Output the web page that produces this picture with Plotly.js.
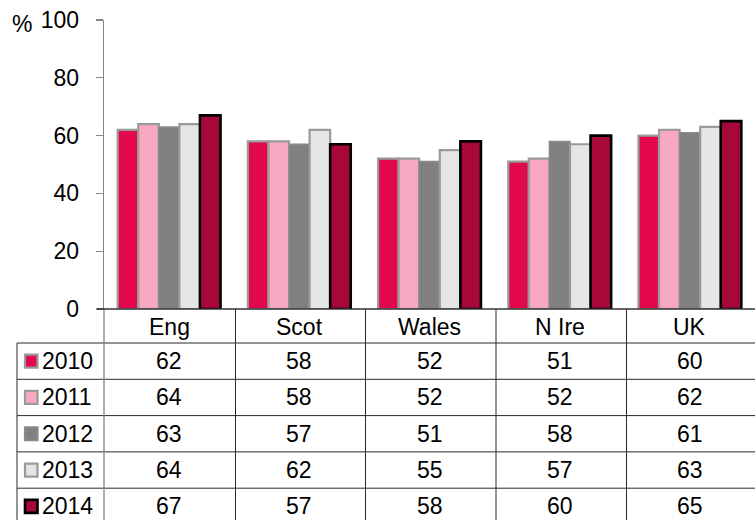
<!DOCTYPE html>
<html>
<head>
<meta charset="utf-8">
<script src="https://cdn.plot.ly/plotly-3.0.1.min.js"></script>
<style>html,body{margin:0;padding:0;background:#fff;}</style>
</head>
<body>
<div id="chart" style="width:755px;height:520px;"></div>
<script>
// Survey share (%) by nation, 2010–2014
const regions = ['Eng', 'Scot', 'Wales', 'N Ire', 'UK'];
const years = ['2010', '2011', '2012', '2013', '2014'];
const v2010 = [62, 58, 52, 51, 60];
const v2011 = [64, 58, 52, 52, 62];
const v2012 = [63, 57, 51, 58, 61];
const v2013 = [64, 62, 55, 57, 63];
const v2014 = [67, 57, 58, 60, 65];
const yTicks = [0, 20, 40, 60, 80, 100];

const series = [v2010, v2011, v2012, v2013, v2014];
const fills = ['#E2084B', '#F9A8C1', '#808080', '#E6E6E6', '#A80739'];
const edges = ['#9A9A9A', '#9A9A9A', '#8A8A8A', '#9A9A9A', '#000000'];
const edgeW = [2.2, 2.2, 1.5, 2.2, 2.6];

const W = 755, H = 520;
const M = {l: 104, r: 0, t: 20, b: 211};
const px = x => (x - M.l) / (W - M.l - M.r);   // pixel x -> paper x
const py = y => (H - M.b - y) / (H - M.t - M.b); // pixel y -> paper y

const FONT = 'Arial';
const FS = 23;

const traces = series.map((vals, i) => ({
  type: 'bar',
  name: years[i],
  x: regions,
  y: vals,
  marker: {color: fills[i], line: {color: edges[i], width: edgeW[i]}},
  hoverinfo: 'x+y+name'
}));

// data table geometry (pixels)
const axisY = 309;
const tableTop = 343;
const rowH = 36.3;
const tableLeft = 17;
const colBounds = [235.5, 365.5, 496, 626.5];

const shapes = [];
const annotations = [];
const lineCol = '#2a2a2a';

// horizontal table rules
for (let r = 0; r <= years.length; r++) {
  const yy = tableTop + r * rowH;
  shapes.push({type: 'line', xref: 'paper', yref: 'paper',
    x0: px(tableLeft), x1: px(W), y0: py(yy), y1: py(yy),
    line: {color: lineCol, width: 1}});
}
// vertical table rules
shapes.push({type: 'line', xref: 'paper', yref: 'paper',
  x0: px(tableLeft), x1: px(tableLeft), y0: py(tableTop), y1: py(H + 5),
  line: {color: lineCol, width: 1}});
shapes.push({type: 'line', xref: 'paper', yref: 'paper',
  x0: 0, x1: 0, y0: 0, y1: py(H + 5),
  line: {color: '#868686', width: 1.3}});
colBounds.forEach(cx => shapes.push({type: 'line', xref: 'paper', yref: 'paper',
  x0: px(cx), x1: px(cx), y0: 0, y1: py(H + 5),
  line: {color: lineCol, width: 1}}));
// baseline with short left tick
shapes.push({type: 'line', xref: 'paper', yref: 'paper',
  x0: px(97), x1: px(W), y0: 0, y1: 0,
  line: {color: '#333333', width: 1.3}});

// category labels
regions.forEach(r => annotations.push({
  xref: 'x', yref: 'paper', x: r, y: py((axisY + tableTop) / 2 + 0.5),
  text: r, showarrow: false, xanchor: 'center', yanchor: 'middle',
  font: {family: FONT, size: FS, color: '#000'}
}));

// rows: legend key, year label and values
years.forEach((yr, i) => {
  const cy = tableTop + (i + 0.5) * rowH;
  shapes.push({type: 'rect', xref: 'paper', yref: 'paper',
    x0: px(25), x1: px(37.5), y0: py(cy - 6.5), y1: py(cy + 6.5),
    fillcolor: fills[i], line: {color: edges[i], width: i === 4 ? 2.6 : 2.2}});
  annotations.push({xref: 'paper', yref: 'paper', x: px(39.5), y: py(cy),
    text: yr, showarrow: false, xanchor: 'left', yanchor: 'middle',
    font: {family: FONT, size: FS, color: '#000'}});
  series[i].forEach((v, j) => annotations.push({
    xref: 'x', yref: 'paper', x: regions[j], y: py(cy),
    text: String(v), showarrow: false, xanchor: 'center', yanchor: 'middle',
    font: {family: FONT, size: FS, color: '#000'}
  }));
});

// unit label
annotations.push({xref: 'paper', yref: 'paper', x: px(22), y: py(24),
  text: '%', showarrow: false, xanchor: 'center', yanchor: 'middle',
  font: {family: FONT, size: FS, color: '#000'}});

const layout = {
  width: W, height: H,
  margin: M,
  paper_bgcolor: '#fff', plot_bgcolor: '#fff',
  showlegend: false,
  barmode: 'group',
  bargap: 0.21, bargroupgap: 0,
  font: {family: FONT, size: FS, color: '#000'},
  xaxis: {
    type: 'category', range: [-0.5, 4.5],
    showticklabels: false, ticks: '', showline: false,
    showgrid: false, zeroline: false, fixedrange: true
  },
  yaxis: {
    range: [0, 100], tickvals: yTicks, ticktext: yTicks.map(String),
    ticks: 'outside', ticklen: 7, tickwidth: 1.3, tickcolor: '#868686',
    showline: true, linecolor: '#868686', linewidth: 1.3,
    showgrid: false, zeroline: false,
    ticklabelstandoff: 12,
    tickfont: {family: FONT, size: FS, color: '#000'},
    fixedrange: true
  },
  shapes: shapes,
  annotations: annotations
};

Plotly.newPlot('chart', traces, layout, {displayModeBar: false, staticPlot: true});
</script>
</body>
</html>
